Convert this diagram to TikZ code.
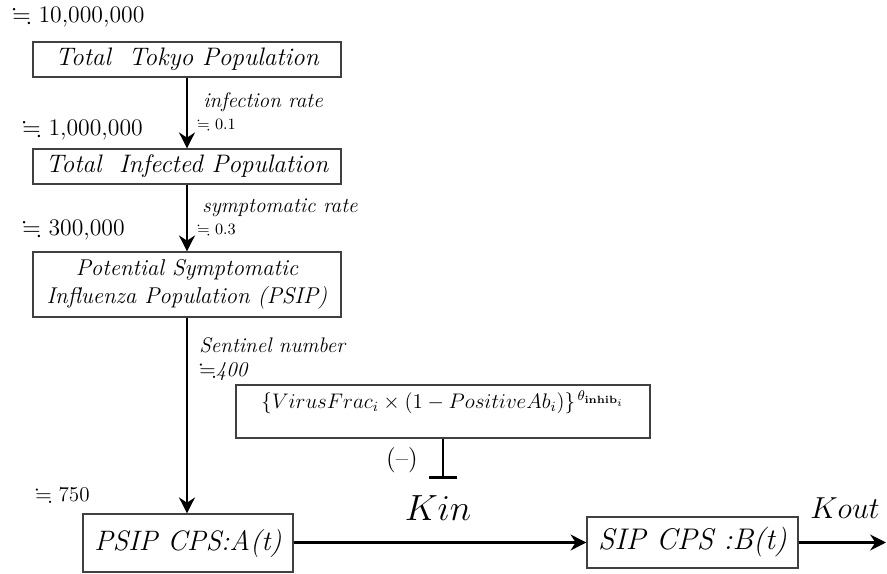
\documentclass[tikz,border=0pt]{standalone}
\usepackage{amssymb}
\usepackage{tikz}
\usetikzlibrary{arrows.meta,positioning}

\begin{document}
\begin{tikzpicture}[x=0.02cm,y=-0.02cm]
		\tikzstyle{Box}		= [draw=black!75, line width=0.7pt, inner sep=0pt, align=center, font=\Large\itshape]
		\tikzstyle{Flow}	= [line width=1.7pt, -{Stealth[length=9pt,width=9pt]}]
		\tikzstyle{Inhib}	= [line width=1.7pt, -{Bar[width=16pt]}]
		\tikzstyle{Count}	= [anchor=west, inner sep=0pt, font=\fontsize{13.5}{16}\selectfont]
		\tikzstyle{Rate}	= [anchor=west, inner sep=0pt, font=\large\itshape]
		\tikzstyle{Approx}	= [anchor=west, inner sep=0pt, font=\small]
		\tikzstyle{Const}	= [inner sep=0pt]

		\useasboundingbox (0,0) rectangle (887,574);

		% population boxes
		\node (tokyo) at (187, 59.5) [Box, minimum width=6.16cm, minimum height=0.70cm] {Total\ \ Tokyo Population};
		\node (infected) at (187, 166.5) [Box, minimum width=6.16cm, minimum height=0.70cm] {Total\ \ Infected Population};
		\node (psip) at (187, 284.5) [Box, minimum width=6.16cm, minimum height=1.30cm, font=\fontsize{13}{16}\selectfont\itshape] {Potential Symptomatic\\Influenza Population (PSIP)};
		\node (frac) at (443, 411.5) [Box, minimum width=8.28cm, minimum height=1.06cm, font=\large] {\raisebox{0.18cm}[\height][\depth]{$\{VirusFrac_i \times (1 - PositiveAb_i)\}^{\,\theta_{\mathbf{inhib}_i}}$}};
		\node (cpsA) at (188, 543) [Box, minimum width=4.20cm, minimum height=1.16cm, font=\fontsize{16}{19}\selectfont\itshape] {PSIP CPS:A(t)};
		\node (cpsB) at (692.5, 542.5) [Box, minimum width=4.22cm, minimum height=1.02cm, font=\fontsize{17}{20}\selectfont\itshape] {SIP CPS :B(t)};

		% numbers and rates
		\node (n0) at (12, 17) [Count] {$\fallingdotseq$ 10,000,000};
		\node (n1) at (22, 130) [Count] {$\fallingdotseq$ 1,000,000};
		\node (n2) at (22, 230) [Count] {$\fallingdotseq$ 300,000};
		\node (n3) at (35, 495) [Count, font=\large] {$\fallingdotseq$ 750};
		\node (r1) at (203, 102) [Rate] {infection rate};
		\node (a1) at (197, 125) [Approx] {$\fallingdotseq$ 0.1};
		\node (r2) at (202, 208) [Rate] {symptomatic rate};
		\node (a2) at (197, 230) [Approx] {$\fallingdotseq$ 0.3};
		\node (r3) at (199, 345) [Rate] {Sentinel number};
		\node (a3) at (199, 372) [Rate] {$\fallingdotseq$400};
		\node (neg) at (402, 460) [Const, font=\Large] {(--)};
		\node (kin) at (438, 508) [Const, font=\huge] {$Kin$};
		\node (kout) at (845, 508) [Const, font=\LARGE] {$Kout$};

		\coordinate (block) at (443, 479);
		\coordinate (out) at (886, 542.5);

		\draw [Flow] (tokyo.south) to (infected.north);
		\draw [Flow] (infected.south) to (psip.north);
		\draw [Flow] (psip.south) to (psip.south |- cpsA.north);
		\draw [Flow] (cpsA.east |- cpsB) to (cpsB.west);
		\draw [Flow] (cpsB.east) to (out);
		\draw [Inhib] (frac.south -| block) to (block);
\end{tikzpicture}
\end{document}
